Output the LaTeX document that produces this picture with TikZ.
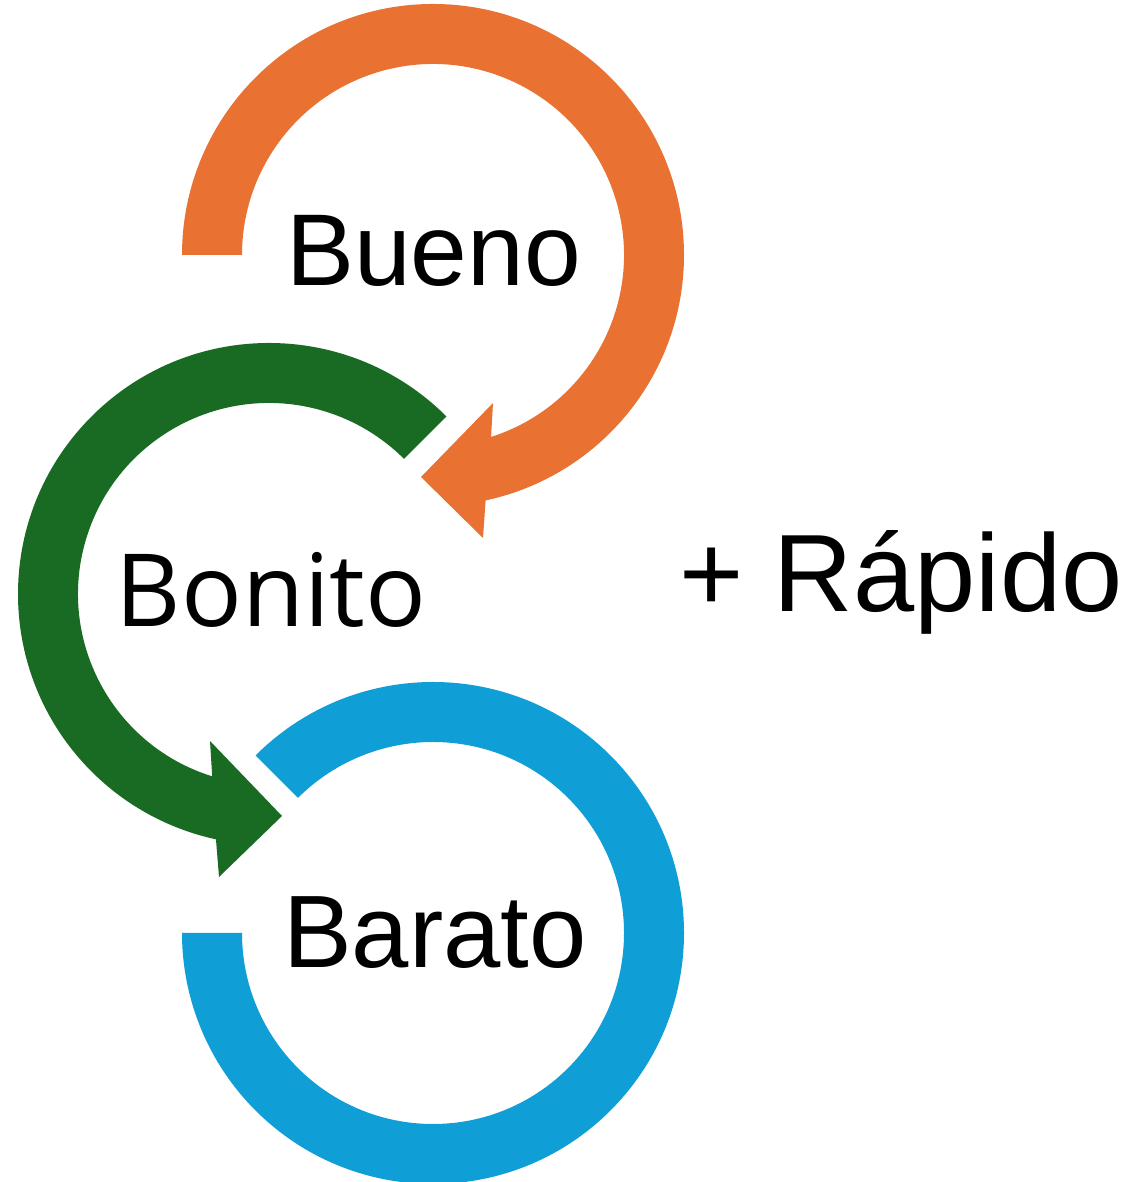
\documentclass[tikz,border=0pt]{standalone}
\usepackage{fontspec}
\setmainfont{Liberation Sans}
\newfontfamily\opensansfamily{Open Sans}
\usetikzlibrary{calc}
\definecolor{ringorange}{HTML}{E97132}
\definecolor{ringgreen}{HTML}{196B24}
\definecolor{ringblue}{HTML}{0F9ED5}
\begin{document}
\begin{tikzpicture}[x=1pt,y=1pt,
  word/.style={font=\fontsize{102}{110}\selectfont, inner sep=0pt, anchor=base},
  bigword/.style={font=\fontsize{110}{120}\selectfont, inner sep=0pt, anchor=base west}]
\useasboundingbox (0,0) rectangle (1128,1182);

% ring centres
\coordinate (co) at (433,927);
\coordinate (cg) at (269,588);
\coordinate (cb) at (433,249);

% orange ring, clockwise from the left, ending in an arrow head
\fill[ringorange] ($(co)+(180:251)$) arc[start angle=180,end angle=-77.9,radius=251]
  -- (483,644) -- (421,705) -- (493,779)
  -- ($(co)+(-72.3:191)$) arc[start angle=-72.3,end angle=180,radius=191] -- cycle;

% green ring, counter-clockwise from upper right, ending in an arrow head
\fill[ringgreen] ($(cg)+(45:251)$) arc[start angle=45,end angle=257.8,radius=251]
  -- (219,305) -- (282,366) -- (210,441)
  -- ($(cg)+(252.7:191)$) arc[start angle=252.7,end angle=45,radius=191] -- cycle;

% blue ring, clockwise from upper left to the left
\fill[ringblue] ($(cb)+(135:251)$) arc[start angle=135,end angle=-180,radius=251]
  -- ++(60,0) arc[start angle=-180,end angle=135,radius=191] -- cycle;

% labels
\node[word] (bueno) at (433.5,896) {Bueno};
\node[word] (bonito) at (271,555) {\opensansfamily\fontsize{101}{110}\selectfont Bonito};
\node[word, font=\fontsize{103}{110}\selectfont] (barato) at (435,214) {Barato};
\node[bigword] (rapido) at (679,570) {+ Rápido};
\end{tikzpicture}
\end{document}
